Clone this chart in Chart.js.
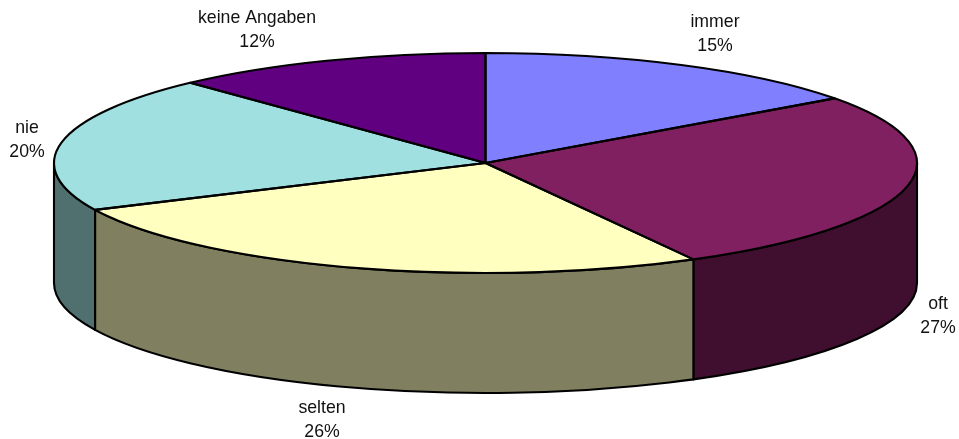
<!DOCTYPE html>
<html><head><meta charset="utf-8">
<style>html,body{margin:0;padding:0;background:#fff}#w{width:959px;height:439px;position:relative}canvas{display:block}</style>
<script src="https://cdn.jsdelivr.net/npm/chart.js@4"></script>
</head><body><div id="w"><canvas id="c" width="959" height="439"></canvas></div>
<script>
const categories = ['immer', 'oft', 'selten', 'nie', 'keine Angaben'];
const values = [15, 27, 26, 20, 12];
const topColors = ['#8080FF', '#802060', '#FFFFC0', '#A0E0E0', '#600080'];
const wallColors = ['#404080', '#400F30', '#808060', '#507070', '#300040'];
const labelCentres = [[715, 22], [938, 304], [322, 408], [27, 128], [257, 18]];

const E = {cx: 485.5, cy: 163, rx: 431.5, ry: 110, depth: 120};
const LINE = 2.1;

const tilt = {
  id: 'tilt',
  beforeDatasetsDraw(chart) {
    const ctx = chart.ctx, arcs = chart.getDatasetMeta(0).data;
    ctx.save();
    // side walls: only the part of each slice that faces the viewer
    arcs.forEach((a, i) => {
      const st = Math.max(a.startAngle, 0), en = Math.min(a.endAngle, Math.PI);
      if (en <= st) return;
      ctx.beginPath();
      ctx.ellipse(E.cx, E.cy, E.rx, E.ry, 0, st, en);
      ctx.ellipse(E.cx, E.cy + E.depth, E.rx, E.ry, 0, en, st, true);
      ctx.closePath();
      ctx.fillStyle = wallColors[i];
      ctx.fill();
      ctx.lineWidth = LINE; ctx.strokeStyle = '#000'; ctx.lineJoin = 'round';
      ctx.stroke();
    });
    ctx.restore();
    const p = arcs[0], r = p.outerRadius;
    ctx.save();
    ctx.translate(E.cx, E.cy);
    ctx.scale(E.rx / r, E.ry / r);
    ctx.translate(-p.x, -p.y);
  },
  afterDatasetsDraw(chart) {
    const ctx = chart.ctx, arcs = chart.getDatasetMeta(0).data;
    ctx.restore();
    ctx.save();
    ctx.lineWidth = LINE; ctx.strokeStyle = '#000'; ctx.lineJoin = 'round';
    arcs.forEach(a => {
      ctx.beginPath();
      ctx.moveTo(E.cx, E.cy);
      ctx.ellipse(E.cx, E.cy, E.rx, E.ry, 0, a.startAngle, a.endAngle);
      ctx.closePath();
      ctx.stroke();
    });
    ctx.fillStyle = '#111';
    ctx.font = '17.7px "Liberation Sans", Arial, sans-serif';
    ctx.textAlign = 'center';
    ctx.textBaseline = 'middle';
    categories.forEach((name, i) => {
      const [x, y] = labelCentres[i];
      ctx.fillText(name, x, y);
      ctx.fillText(values[i] + '%', x, y + 24);
    });
    ctx.restore();
  }
};

new Chart(document.getElementById('c'), {
  type: 'pie',
  data: {labels: categories, datasets: [{data: values, backgroundColor: topColors, borderWidth: 0, hoverOffset: 0}]},
  options: {
    responsive: false, animation: false,
    layout: {padding: 10},
    plugins: {legend: {display: false}, tooltip: {enabled: false}, title: {display: false}}
  },
  plugins: [tilt]
});
</script></body></html>
